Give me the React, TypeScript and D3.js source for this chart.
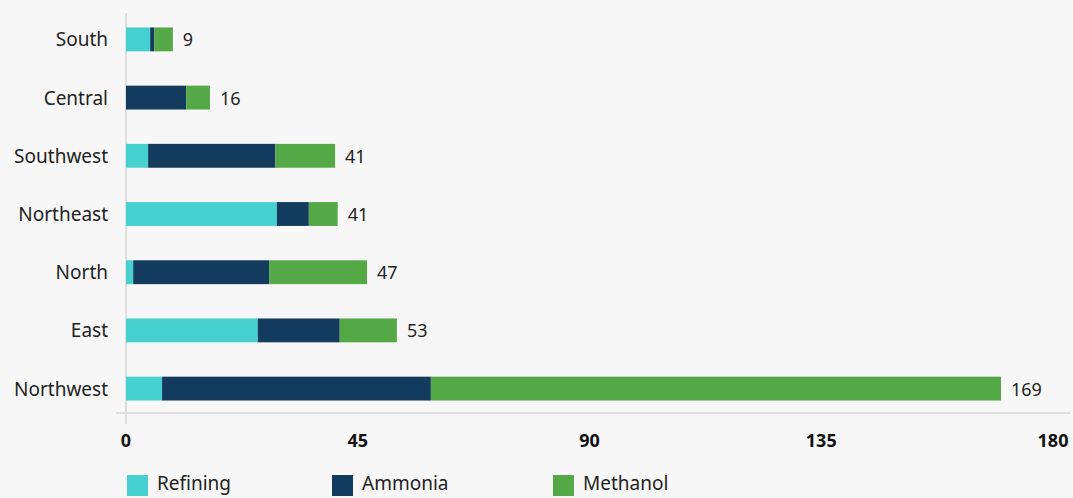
import React from "react";
import * as d3 from "d3";

const categories = ["South", "Central", "Southwest", "Northeast", "North", "East", "Northwest"];
const seriesNames = ["Refining", "Ammonia", "Methanol"];
const refining = [4.7, 0, 4.3, 29.3, 1.4, 25.6, 7.0];
const ammonia = [0.8, 11.7, 24.7, 6.2, 26.4, 15.9, 52.2];
const methanol = [3.6, 4.6, 11.6, 5.6, 19.0, 11.1, 110.7];
const totalLabels = ["9", "16", "41", "41", "47", "53", "169"];
const xTicks = [0, 45, 90, 135, 180];
const colors = ["#46d0cf", "#123b5e", "#55a846"];

const W = 1073;
const H = 498;
const FONT = "'Noto Sans', sans-serif";

export default function App() {
  const x = d3.scaleLinear().domain([0, 180]).range([126, 1053]);
  const y = d3.scaleBand().domain(categories).range([10, 418]).paddingInner(0.59).paddingOuter(0.3);
  const rows = categories.map((c, i) => ({ cat: c, Refining: refining[i], Ammonia: ammonia[i], Methanol: methanol[i] }));
  const stacked = d3.stack<any>().keys(seriesNames)(rows);
  const legendX = [127, 332, 553];

  return (
    <svg width={W} height={H} style={{ position: "absolute", left: 0, top: 0, background: "#f7f7f7" }}>
      <rect x={0} y={0} width={W} height={H} fill="#f7f7f7" />
      {/* axes */}
      <line x1={116} x2={1070} y1={413} y2={413} stroke="#d6d6d6" strokeWidth={1.5} />
      <line x1={126} x2={126} y1={13} y2={424} stroke="#d6d6d6" strokeWidth={1.5} />
      {stacked.map((s, si) =>
        s.map((d, i) => {
          const w = x(d[1]) - x(d[0]);
          if (w <= 0) return null;
          return (
            <rect key={si + "-" + i} x={x(d[0])} y={y(categories[i])!} width={w} height={y.bandwidth()} fill={colors[si]} />
          );
        })
      )}
      {categories.map((c, i) => (
        <text key={c} x={108} y={y(c)! + y.bandwidth() / 2} textAnchor="end" dominantBaseline="central"
          fontFamily={FONT} fontSize={19} fill="#222">{c}</text>
      ))}
      {categories.map((c, i) => {
        const t = refining[i] + ammonia[i] + methanol[i];
        return (
          <text key={"t" + c} x={x(t) + 10} y={y(c)! + y.bandwidth() / 2} dominantBaseline="central"
            fontFamily={FONT} fontSize={18} fill="#222">{totalLabels[i]}</text>
        );
      })}
      {xTicks.map((t) => (
        <text key={t} x={x(t)} y={440} textAnchor="middle" dominantBaseline="central"
          fontFamily={FONT} fontSize={18} fontWeight="bold" fill="#111">{t}</text>
      ))}
      {seriesNames.map((s, i) => (
        <g key={s}>
          <rect x={legendX[i]} y={475} width={21} height={21} fill={colors[i]} />
          <text x={legendX[i] + 30} y={483} dominantBaseline="central" fontFamily={FONT} fontSize={19} fill="#222">{s}</text>
        </g>
      ))}
    </svg>
  );
}
